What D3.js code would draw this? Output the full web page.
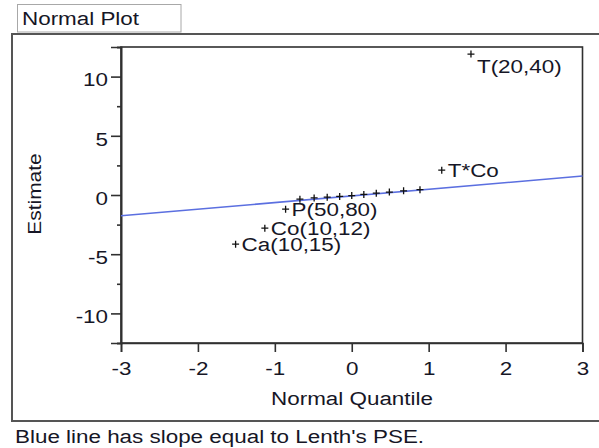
<!DOCTYPE html>
<html>
<head>
<meta charset="utf-8">
<script src="https://cdn.jsdelivr.net/npm/d3@7"></script>
<style>
  body { margin: 0; background: #fff; }
  text { font-family: "Liberation Sans", Arial, sans-serif; font-size: 19px; fill: #161626; }
</style>
</head>
<body>
<div id="chart-area"></div>
<script>
// Effect estimates, sorted, with their normal quantiles
const effectLabels = ["Ca(10,15)", "Co(10,12)", "P(50,80)", "", "", "", "", "", "", "", "", "", "", "T*Co", "T(20,40)"];
const normalQuantiles = [-1.51, -1.13, -0.86, -0.674, -0.489, -0.319, -0.157, 0, 0.157, 0.319, 0.489, 0.674, 0.887, 1.17, 1.55];
const estimates = [-4.15, -2.8, -1.2, -0.35, -0.25, -0.18, -0.12, -0.05, 0.05, 0.15, 0.25, 0.35, 0.45, 2.1, 11.9];

// Lenth's PSE reference line
const pseSlope = 0.56;
const pseIntercept = -0.08;

const xTicks = [-3, -2, -1, 0, 1, 2, 3];
const yTicks = [-10, -5, 0, 5, 10];
const yMinorTicks = [-12.5, -7.5, -2.5, 2.5, 7.5, 12.5];

const titleText = "Normal Plot";
const xTitle = "Normal Quantile";
const yTitle = "Estimate";
const footnote = "Blue line has slope equal to Lenth's PSE.";

const W = 599, H = 448;
const plot = { left: 121, right: 582.5, top: 47, bottom: 343 };
const stretch = 1.18; // the source image is a bit wide

const svg = d3.select("#chart-area")
    .append("svg")
    .attr("width", W)
    .attr("height", H);

const x = d3.scaleLinear().domain([-3, 3]).range([plot.left, plot.right]);
const y = d3.scaleLinear().domain([-12.5, 12.5]).range([plot.bottom, plot.top]);

// plain hyphen for negatives, like the original
const fmt = d => String(d);

// put a (stretched) text at x,y
function addText(px, py, str, anchor, rot) {
    const g = svg.append("g")
        .attr("transform", `translate(${px},${py})` + (rot ? ` rotate(${rot}) scale(1.1,1)` : ` scale(${stretch},1)`));
    return g.append("text")
        .attr("text-anchor", anchor || "start")
        .text(str);
}

// outer report box
svg.append("rect")
    .attr("x", 12).attr("y", 34)
    .attr("width", 600).attr("height", 387)
    .attr("fill", "none")
    .attr("stroke", "#555")
    .attr("stroke-width", 2);

// title box
svg.append("rect")
    .attr("x", 17.5).attr("y", 4.5)
    .attr("width", 163.5).attr("height", 27.5)
    .attr("fill", "#fff")
    .attr("stroke", "#a8a8a8");
addText(22, 25, titleText);

// plot frame
svg.append("rect")
    .attr("x", plot.left).attr("y", plot.top)
    .attr("width", plot.right - plot.left).attr("height", plot.bottom - plot.top)
    .attr("fill", "#fff")
    .attr("stroke", "#303030")
    .attr("stroke-width", 1.6);

// y axis
const yAxis = svg.append("g")
    .attr("transform", `translate(${plot.left},0)`)
    .call(d3.axisLeft(y).tickValues(yTicks).tickSize(10).tickFormat(fmt));
yAxis.selectAll("text")
    .attr("transform", `scale(${stretch},1)`)
    .attr("x", -11)
    .attr("dy", "0.49em")
    .style("font-size", "19px")
    .style("font-family", null);

svg.append("g")
    .attr("transform", `translate(${plot.left},0)`)
    .call(d3.axisLeft(y).tickValues(yMinorTicks).tickSize(4).tickFormat(""));

// x axis
const xAxis = svg.append("g")
    .attr("transform", `translate(0,${plot.bottom})`)
    .call(d3.axisBottom(x).tickValues(xTicks).tickSize(9).tickFormat(fmt));
xAxis.selectAll("text")
    .attr("transform", `scale(${stretch},1)`)
    .attr("y", 19)
    .style("font-size", "19px")
    .style("font-family", null);

svg.selectAll(".domain").attr("stroke", "#303030").attr("stroke-width", 1.6);
svg.selectAll(".tick line").attr("stroke", "#303030").attr("stroke-width", 1.6);
svg.selectAll(".tick text").style("fill", "#161626");

// axis titles
addText(352, 405, xTitle, "middle");
addText(41, 194, yTitle, "middle", -90);

// Lenth PSE line
svg.append("line")
    .attr("x1", x(-3)).attr("y1", y(pseIntercept + pseSlope * -3))
    .attr("x2", x(3)).attr("y2", y(pseIntercept + pseSlope * 3))
    .attr("stroke", "#5b6fe0")
    .attr("stroke-width", 1.5);

// effect markers
const effects = estimates.map((e, i) => ({ q: normalQuantiles[i], est: e, label: effectLabels[i] }));

svg.selectAll("path.pt")
    .data(effects)
    .enter()
    .append("path")
    .attr("class", "pt")
    .attr("d", d => {
        const cx = x(d.q), cy = y(d.est), s = 3.5;
        return `M${cx - s},${cy}H${cx + s}M${cx},${cy - s}V${cy + s}`;
    })
    .attr("stroke", "#111")
    .attr("stroke-width", 1.3);

// labels, kept inside the frame
effects.filter(d => d.label).forEach(d => {
    const cy = Math.max(y(d.est), plot.top + 19);
    addText(x(d.q) + 6, cy + 7, d.label);
});

// footnote
addText(15, 443, footnote);
</script>
</body>
</html>
